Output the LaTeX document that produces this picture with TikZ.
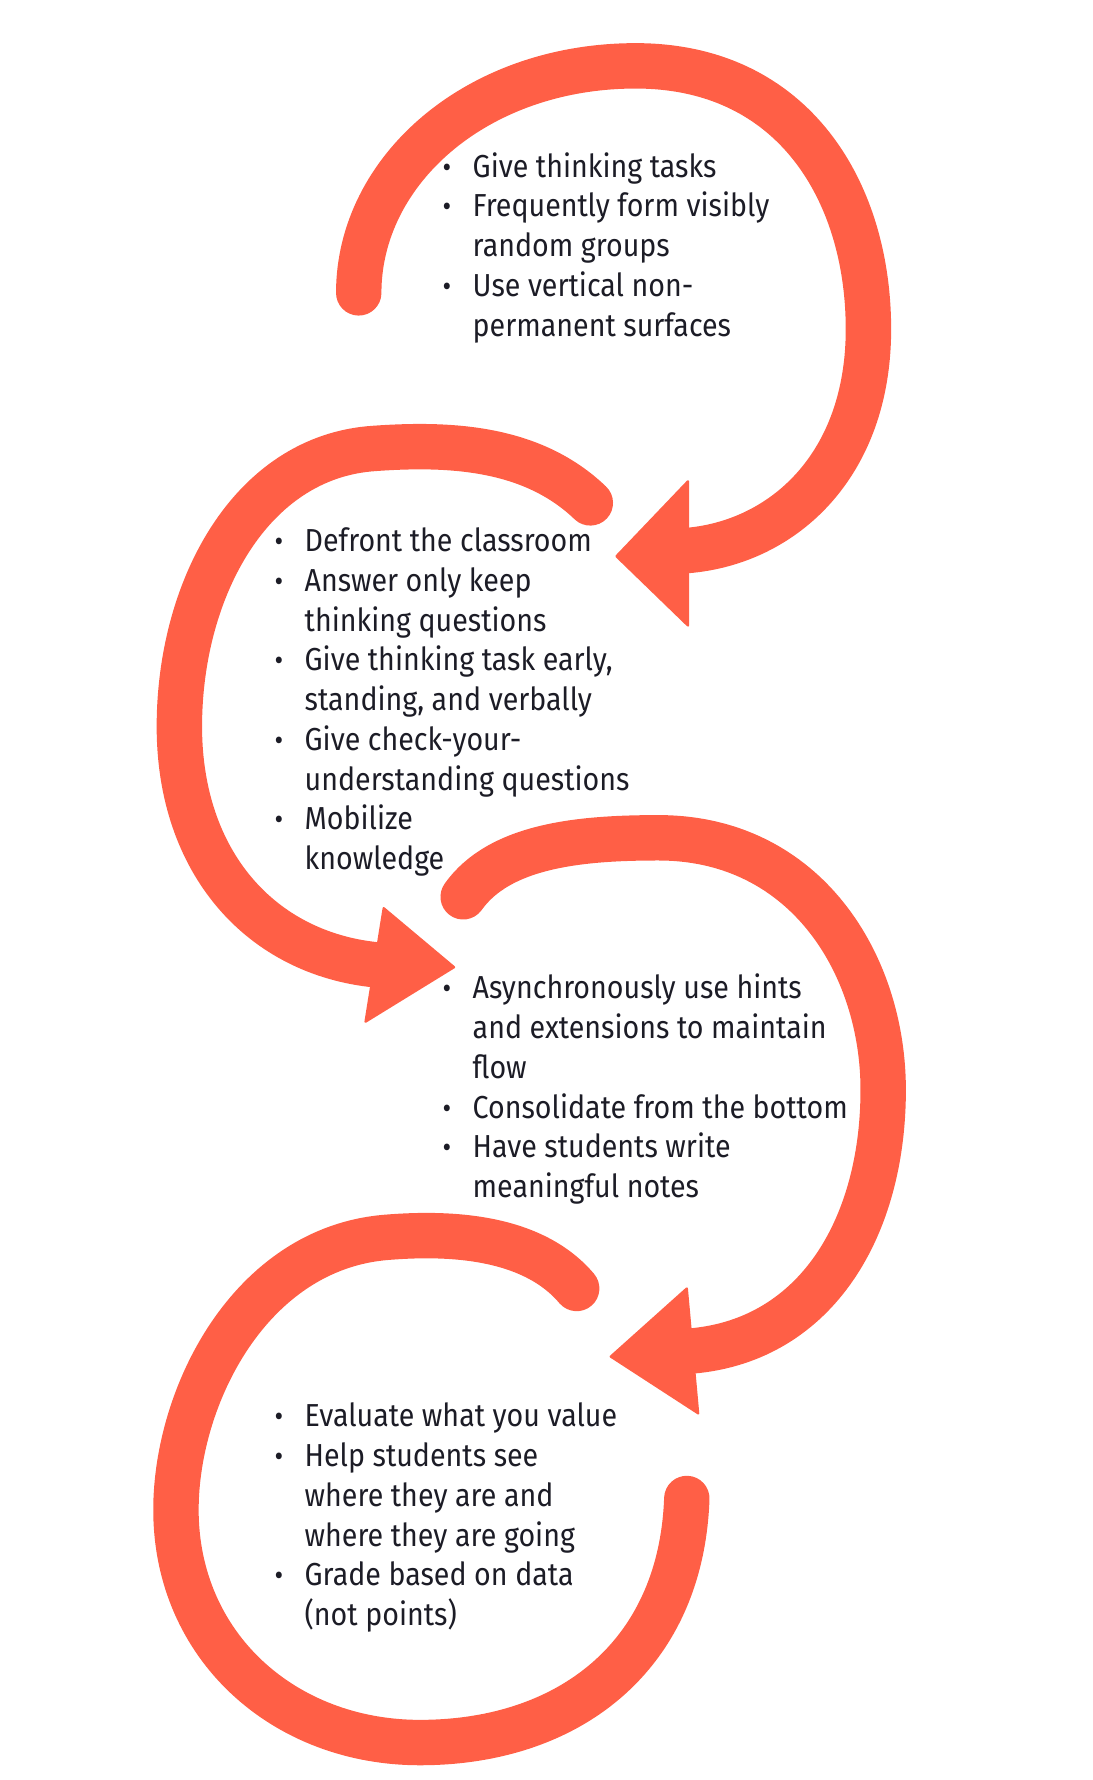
\documentclass[tikz,border=0pt]{standalone}
\usepackage{fontspec}
\setmainfont{Fira Sans}[FakeStretch=0.9]
\definecolor{loopred}{RGB}{255,95,70}
\definecolor{ink}{RGB}{28,28,38}
\newcommand\mybul{\llap{\fontsize{13}{13}\selectfont\textbullet\hskip 9.5pt}}
\begin{document}
\begin{tikzpicture}[x=0.5pt,y=-0.5pt,
  loopline/.style={draw=loopred,line width=20pt,line cap=round},
  arrowtip/.style={fill=loopred,draw=loopred,line width=1pt,line join=round},
  txt/.style={font=\fontsize{14}{17.5}\selectfont,text=ink,align=left,anchor=base west,inner sep=0pt}]
\useasboundingbox (0,0) rectangle (962,1568);
% loop 1
\coordinate (l1s) at (316,258);
\coordinate (l1e) at (605,485);
\draw[loopline] (l1s) .. controls (316,150) and (420,58) .. (560,58)
  .. controls (700,58) and (765,170) .. (765,290)
  .. controls (765,410) and (690,478) .. (l1e);
\fill[arrowtip] (543,490) -- (606,424) -- (606,551) -- cycle;
% loop 2
\coordinate (l2s) at (520,443);
\coordinate (l2e) at (332,850);
\draw[loopline] (l2s) .. controls (470,395) and (400,390) .. (330,395)
  .. controls (220,402) and (158,520) .. (158,640)
  .. controls (158,760) and (230,840) .. (l2e);
\fill[arrowtip] (400,852) -- (338,800) -- (322,900) -- cycle;
% loop 3
\coordinate (l3s) at (408,790);
\coordinate (l3e) at (610,1190);
\draw[loopline] (l3s) .. controls (440,745) and (510,738) .. (580,738)
  .. controls (710,738) and (778,850) .. (778,960)
  .. controls (778,1080) and (720,1180) .. (l3e);
\fill[arrowtip] (538,1195) -- (605,1135) -- (615,1245) -- cycle;
% loop 4
\coordinate (l4s) at (508,1135);
\coordinate (l4e) at (605,1320);
\draw[loopline] (l4s) .. controls (470,1090) and (400,1085) .. (340,1090)
  .. controls (220,1100) and (155,1230) .. (155,1330)
  .. controls (155,1450) and (250,1535) .. (370,1535)
  .. controls (500,1535) and (600,1460) .. (l4e);
% texts (base anchor = baseline of the last line)
\node[txt] (t1) at (416,296) {\mybul Give thinking tasks\\
  \mybul Frequently form visibly\\random groups\\
  \mybul Use vertical non-\\permanent surfaces};
\node[txt] (t2) at (268,766) {\mybul Defront the classroom\\
  \mybul Answer only keep\\thinking questions\\
  \mybul Give thinking task early,\\standing, and verbally\\
  \mybul Give check-your-\\understanding questions\\
  \mybul Mobilize\\knowledge};
\node[txt] (t3) at (416,1055) {\mybul Asynchronously use hints\\and extensions to maintain\\flow\\
  \mybul Consolidate from the bottom\\
  \mybul Have students write\\meaningful notes};
\node[txt] (t4) at (268,1432) {\mybul Evaluate what you value\\
  \mybul Help students see\\where they are and\\where they are going\\
  \mybul Grade based on data\\(not points)};
\end{tikzpicture}
\end{document}
